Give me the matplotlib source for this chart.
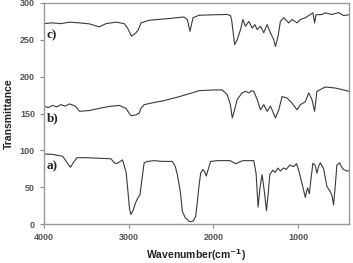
import matplotlib
matplotlib.use("Agg")
import matplotlib.pyplot as plt

# Curve a)
wn_a = [4000, 3900, 3780, 3720, 3688, 3650, 3610, 3500, 3300, 3210, 3170, 3143, 3100, 3073, 3030,
        2990, 2974, 2950, 2915, 2880, 2868, 2845, 2818, 2779, 2700, 2600, 2485, 2450, 2426, 2400,
        2386, 2367, 2330, 2290, 2268, 2240, 2210, 2190, 2171, 2151, 2124, 2100, 2085, 2060, 2033,
        1950, 1800, 1760, 1730, 1700, 1650, 1524, 1497, 1473, 1450, 1426, 1400, 1374, 1355, 1335,
        1300, 1270, 1240, 1210, 1171, 1140, 1100, 1053, 1020, 994, 955, 915, 900, 888, 868,
        850, 826, 800, 779, 760, 739, 700, 661, 621, 600, 582, 560, 543, 512, 490, 465, 426, 400]
val_a = [95, 94.5, 92, 82, 77, 84, 90, 90, 89, 88.5, 83, 82, 85, 87, 70,
         20, 13, 18, 30, 38, 39, 60, 83, 85, 86, 85, 85, 78, 67, 50,
         39, 17, 8, 4, 3, 4, 10, 30, 51, 69, 74, 70, 65, 75, 85,
         86, 86, 83, 82, 84, 86, 86, 69, 23, 50, 67, 45, 18, 40, 67,
         73, 70, 76, 72, 76, 74, 80, 78, 82, 73, 55, 36, 45, 49, 41,
         60, 82.5, 80, 69, 78, 83, 75, 51, 44, 38, 26, 55, 80, 83, 78, 74, 72, 72]

# Curve b)
wn_b = [4000, 3950, 3900, 3850, 3800, 3750, 3700, 3650, 3620, 3582, 3465, 3347, 3229, 3112,
        3033, 2974, 2915, 2876, 2856, 2818, 2700, 2600, 2500, 2400, 2327, 2250, 2170, 2000,
        1896, 1837, 1800, 1778, 1750, 1720, 1661, 1620, 1580, 1550, 1523, 1484, 1445, 1406,
        1367, 1327, 1268, 1229, 1190, 1131, 1072, 1013, 974, 915, 876, 837, 806, 779,
        681, 563, 426, 400]
val_b = [160, 158, 161, 159, 162, 160, 163, 161, 159, 153, 154, 157, 159.6, 161,
         157, 147, 148, 150.6, 157, 162, 165, 167, 170, 173, 175.5, 178, 181, 182,
         182, 175.5, 162, 144, 155, 169, 178, 180, 178, 181, 180, 169, 155, 162,
         153, 160, 144, 155, 173, 171, 164, 155, 162, 166, 178, 169, 153, 180,
         186, 184.6, 181, 180]

# Curve c)
wn_c = [4000, 3900, 3800, 3700, 3582, 3465, 3347, 3268, 3151, 3053, 3014, 2967, 2915, 2885,
        2856, 2759, 2562, 2347, 2308, 2277, 2241, 2170, 2000, 1837, 1800, 1786, 1767, 1750,
        1720, 1680, 1653, 1622, 1582, 1543, 1512, 1484, 1445, 1406, 1367, 1327, 1288, 1268,
        1237, 1210, 1170, 1112, 1072, 1013, 974, 915, 856, 826, 806, 790, 720, 681, 602,
        524, 465, 400]
val_c = [272, 273, 272, 274, 273, 271.7, 267.6, 272, 274, 272, 266, 255, 259.6, 264,
         273, 276.6, 278.5, 281, 277.6, 261.6, 280, 283.4, 284, 284.4, 283, 277.6, 259.6, 243.5,
         250, 264, 277.6, 268.5, 275, 266, 270.7, 264, 268.5, 259.6, 270.7, 259.6, 250, 241,
         255, 275, 280, 273, 277.6, 273, 277.6, 280, 284.4, 286.7, 273, 284, 284.4, 286.7, 284.4,
         287, 283, 284]

curve_labels = ["a)", "b)", "c)"]
label_pos_wn = [3965, 3965, 3965]
label_pos_val = [79, 143, 256]

y_ticks = [0, 50, 100, 150, 200, 250, 300]
x_ticks = [4000, 3000, 2000, 1000]

fig = plt.figure(figsize=(3.53, 2.63), dpi=100)
ax = fig.add_axes([44 / 353, 1 - 224 / 263, 305 / 353, 221 / 263])

line_color = "#3a3a3a"
for wn, val in [(wn_a, val_a), (wn_b, val_b), (wn_c, val_c)]:
    ax.plot(wn, val, color=line_color, lw=0.8)

for lab, xw, yv in zip(curve_labels, label_pos_wn, label_pos_val):
    ax.text(xw, yv, lab, family="Liberation Serif", fontweight="bold", fontsize=9.5,
            color="#222222", ha="left", va="center")

ax.set_xlim(4000, 400)
ax.set_ylim(0, 300)
ax.set_xticks(x_ticks)
ax.set_yticks(y_ticks)
ax.tick_params(direction="out", length=3, width=0.8, colors="#888888",
               labelcolor="#555555", labelsize=6.5)
for lbl in ax.get_xticklabels() + ax.get_yticklabels():
    lbl.set_fontweight("bold")
    lbl.set_family("Liberation Sans")
for sp in ax.spines.values():
    sp.set_color("#999999")
    sp.set_linewidth(1.0)

ax.set_ylabel("Transmittance", fontsize=7.5, fontweight="bold", color="#222222",
              labelpad=4, family="Liberation Sans")
ax.set_xlabel("Wavenumber(cm$^{\\mathbf{-1}}$)", fontsize=7.5, fontweight="bold",
              color="#222222", labelpad=4, family="Liberation Sans")

fig.savefig("out.png", dpi=100)
